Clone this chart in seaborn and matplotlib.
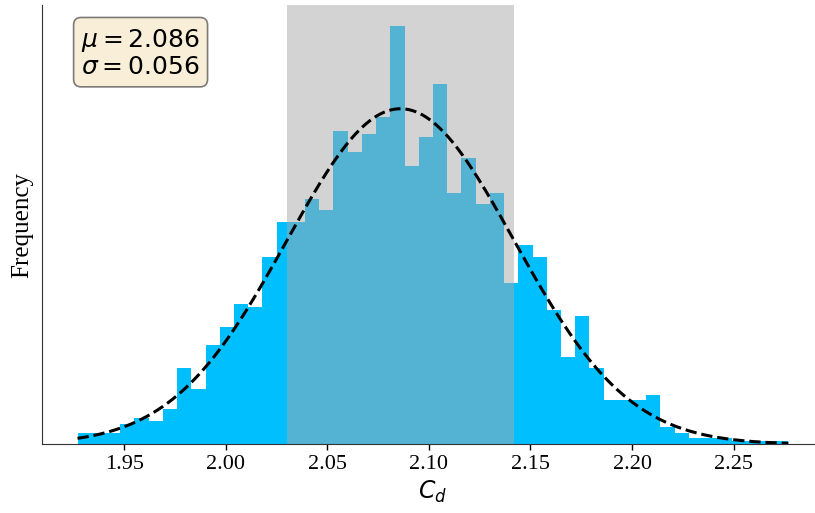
import numpy as np
import pandas as pd
import matplotlib
matplotlib.use("Agg")
import matplotlib.pyplot as plt
import seaborn as sns

# ---- data ----
x_min = 1.927
x_max = 2.277
counts = [4, 4, 4, 7, 9, 8, 12, 26, 19, 34,
          40, 48, 47, 64, 76, 76, 84, 80, 107, 100,
          106, 112, 143, 95, 105, 123, 86, 98, 82, 86,
          55, 68, 64, 46, 30, 44, 26, 15, 15, 15,
          17, 6, 4, 2, 2, 2, 1, 1, 1, 1]
mu = 2.086
sigma = 0.056
x_ticks = [1.95, 2.00, 2.05, 2.10, 2.15, 2.20, 2.25]

# ---- derived ----
n_bins = len(counts)
edges = np.linspace(x_min, x_max, n_bins + 1)
centers = 0.5 * (edges[:-1] + edges[1:])
bw = edges[1] - edges[0]
hist_df = pd.DataFrame({"Cd": centers, "count": counts})

xs = np.linspace(x_min, x_max, 400)
pdf = np.exp(-0.5 * ((xs - mu) / sigma) ** 2) / (sigma * np.sqrt(2 * np.pi))
curve_df = pd.DataFrame({"Cd": xs, "fit": pdf * sum(counts) * bw})

sns.set_style("ticks")
plt.rcParams["font.family"] = ["Liberation Serif", "DejaVu Serif"]
plt.rcParams["mathtext.fontset"] = "dejavusans"
plt.rcParams["text.color"] = "black"
plt.rcParams["axes.labelcolor"] = "black"
plt.rcParams["xtick.color"] = "black"
plt.rcParams["axes.edgecolor"] = "0.2"

fig = plt.figure(figsize=(8.15, 5.13), dpi=100)
ax = fig.add_axes([42 / 815, (513 - 444.3) / 513, 782 / 815, 439.3 / 513])

sns.histplot(data=hist_df, x="Cd", weights="count", bins=n_bins,
             binrange=(x_min, x_max),
             color="deepskyblue", alpha=1.0, linewidth=0, ax=ax)
ax.axvspan(mu - sigma, mu + sigma, color="darkgray", alpha=0.5, linewidth=0)
sns.lineplot(data=curve_df, x="Cd", y="fit", color="black",
             linestyle="--", linewidth=2.2, ax=ax)

ax.set_ylim(0, max(counts) * 1.05)
ax.set_xticks(x_ticks)
ax.set_xticklabels([f"{t:.2f}" for t in x_ticks])
ax.set_yticks([])
ax.tick_params(axis="x", labelsize=16, length=4, width=1)
ax.set_xlabel(r"$C_d$", fontsize=17)
ax.set_ylabel("Frequency", fontsize=18, labelpad=6)

ax.text(0.05, 0.95, "$\\mu=%.3f$\n$\\sigma=%.3f$" % (mu, sigma),
        transform=ax.transAxes, fontsize=18, va="top", ha="left",
        color="black",
        bbox=dict(boxstyle="round", facecolor="wheat", edgecolor="black",
                  linewidth=1.2, alpha=0.5))

sns.despine(ax=ax)
fig.savefig("out.png", dpi=100)
